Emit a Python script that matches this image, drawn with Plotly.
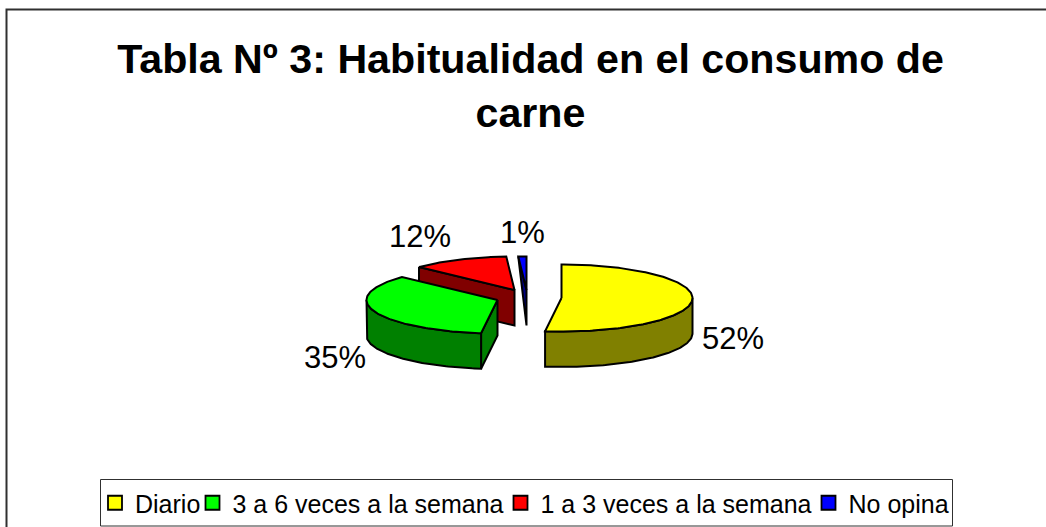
import numpy as np
import plotly.graph_objects as go

# Data
categories = ["Diario", "3 a 6 veces a la semana", "1 a 3 veces a la semana", "No opina"]
percentages = [52, 35, 12, 1]
title_lines = ["Tabla Nº 3: Habitualidad en el consumo de", "carne"]

# Style
top_colors = ["#FFFF00", "#00FF00", "#FF0000", "#0000FF"]
side_colors = ["#808000", "#008000", "#800000", "#000080"]

# Projected pie geometry (pixel space of the picture)
RX, RY, DEPTH = 131, 33.5, 35.5
apexes = [(561.5, 298), (497.5, 300), (514.5, 290), (526.5, 290)]
label_positions = [(733, 338), (335, 357), (420, 236), (522, 232)]
legend_lefts = [95, 192.5, 500.5, 808.5]
LINE = dict(color="black", width=2)


def arc(cx, cy, a0, a1):
    t = np.radians(np.linspace(a0, a1, max(2, int(abs(a1 - a0)) + 2)))
    return cx + RX * np.sin(t), cy - RY * np.cos(t)


def polygon(fig, xs, ys, color):
    fig.add_trace(go.Scatter(
        x=np.append(xs, xs[0]), y=np.append(ys, ys[0]), mode="lines", fill="toself",
        fillcolor=color, line=LINE, showlegend=False, hoverinfo="skip"))


fig = go.Figure()
starts = np.concatenate([[0], np.cumsum(percentages)[:-1]]) * 3.6
ends = np.cumsum(percentages) * 3.6

# Back slices first, so that the nearer ones cover them
for i in reversed(range(len(percentages))):
    cx, cy = apexes[i]
    s, e = starts[i], ends[i]
    # Cut face, visible when it looks towards the viewer
    if 180 < s < 360:
        bx, by = arc(cx, cy, s, s)
        fx = [bx[0], cx, cx]
        fy = [by[0], cy, cy + DEPTH]
        if e - s > 10:
            fx.append(bx[0])
            fy.append(by[0] + DEPTH)
        polygon(fig, np.array(fx), np.array(fy), side_colors[i])
    # Outer wall on the front half of the ellipse
    w0, w1 = max(s, 90), min(e, 270)
    if w1 > w0:
        ax, ay = arc(cx, cy, w0, w1)
        polygon(fig, np.concatenate([ax, ax[::-1]]),
                np.concatenate([ay, ay[::-1] + DEPTH]), side_colors[i])
    # Top surface
    ax, ay = arc(cx, cy, s, e)
    polygon(fig, np.concatenate([[cx], ax]), np.concatenate([[cy], ay]), top_colors[i])

# Legend entries, one legend each so the spacing follows the picture
layout_legends = {}
for i, name in enumerate(categories):
    key = "legend" if i == 0 else f"legend{i + 1}"
    fig.add_trace(go.Scatter(
        x=[None], y=[None], mode="markers", name=name, legend=key, showlegend=True,
        marker=dict(symbol="square", size=14, color=top_colors[i],
                    line=dict(color="black", width=1.8))))
    layout_legends[key] = dict(
        x=legend_lefts[i] / 1046, xanchor="left", y=1 - 503 / 527, yanchor="middle",
        orientation="h", bgcolor="rgba(0,0,0,0)", borderwidth=0,
        font=dict(family="Liberation Sans", size=25, color="black"))

annotations = [
    dict(x=px, y=py, xref="x", yref="y", text=f"{v}%", showarrow=False,
         font=dict(family="Liberation Sans", size=31, color="black"))
    for v, (px, py) in zip(percentages, label_positions)
]

fig.update_layout(
    width=1046, height=527, autosize=False,
    margin=dict(l=0, r=0, t=0, b=0),
    paper_bgcolor="white", plot_bgcolor="white",
    title=dict(text="<br>".join(title_lines), x=530.5 / 1046, xanchor="center",
               y=1 - 73 / 527, yanchor="middle",
               font=dict(family="Liberation Sans", size=41.2, color="black", weight="bold")),
    xaxis=dict(range=[0, 1046], visible=False, fixedrange=True),
    yaxis=dict(range=[527, 0], visible=False, fixedrange=True),
    annotations=annotations,
    shapes=[
        dict(type="rect", xref="x", yref="y", x0=6.5, y0=9.5, x1=1070, y1=550,
             line=dict(color="#303030", width=2), layer="below"),
        dict(type="rect", xref="x", yref="y", x0=100.5, y0=479.5, x1=952.5, y1=526,
             line=dict(color="#303030", width=1), layer="below"),
    ],
    **layout_legends,
)
fig.write_html("out.html", config=dict(displayModeBar=False),
               post_script="document.body.style.margin='0';document.body.style.overflow='hidden';")
